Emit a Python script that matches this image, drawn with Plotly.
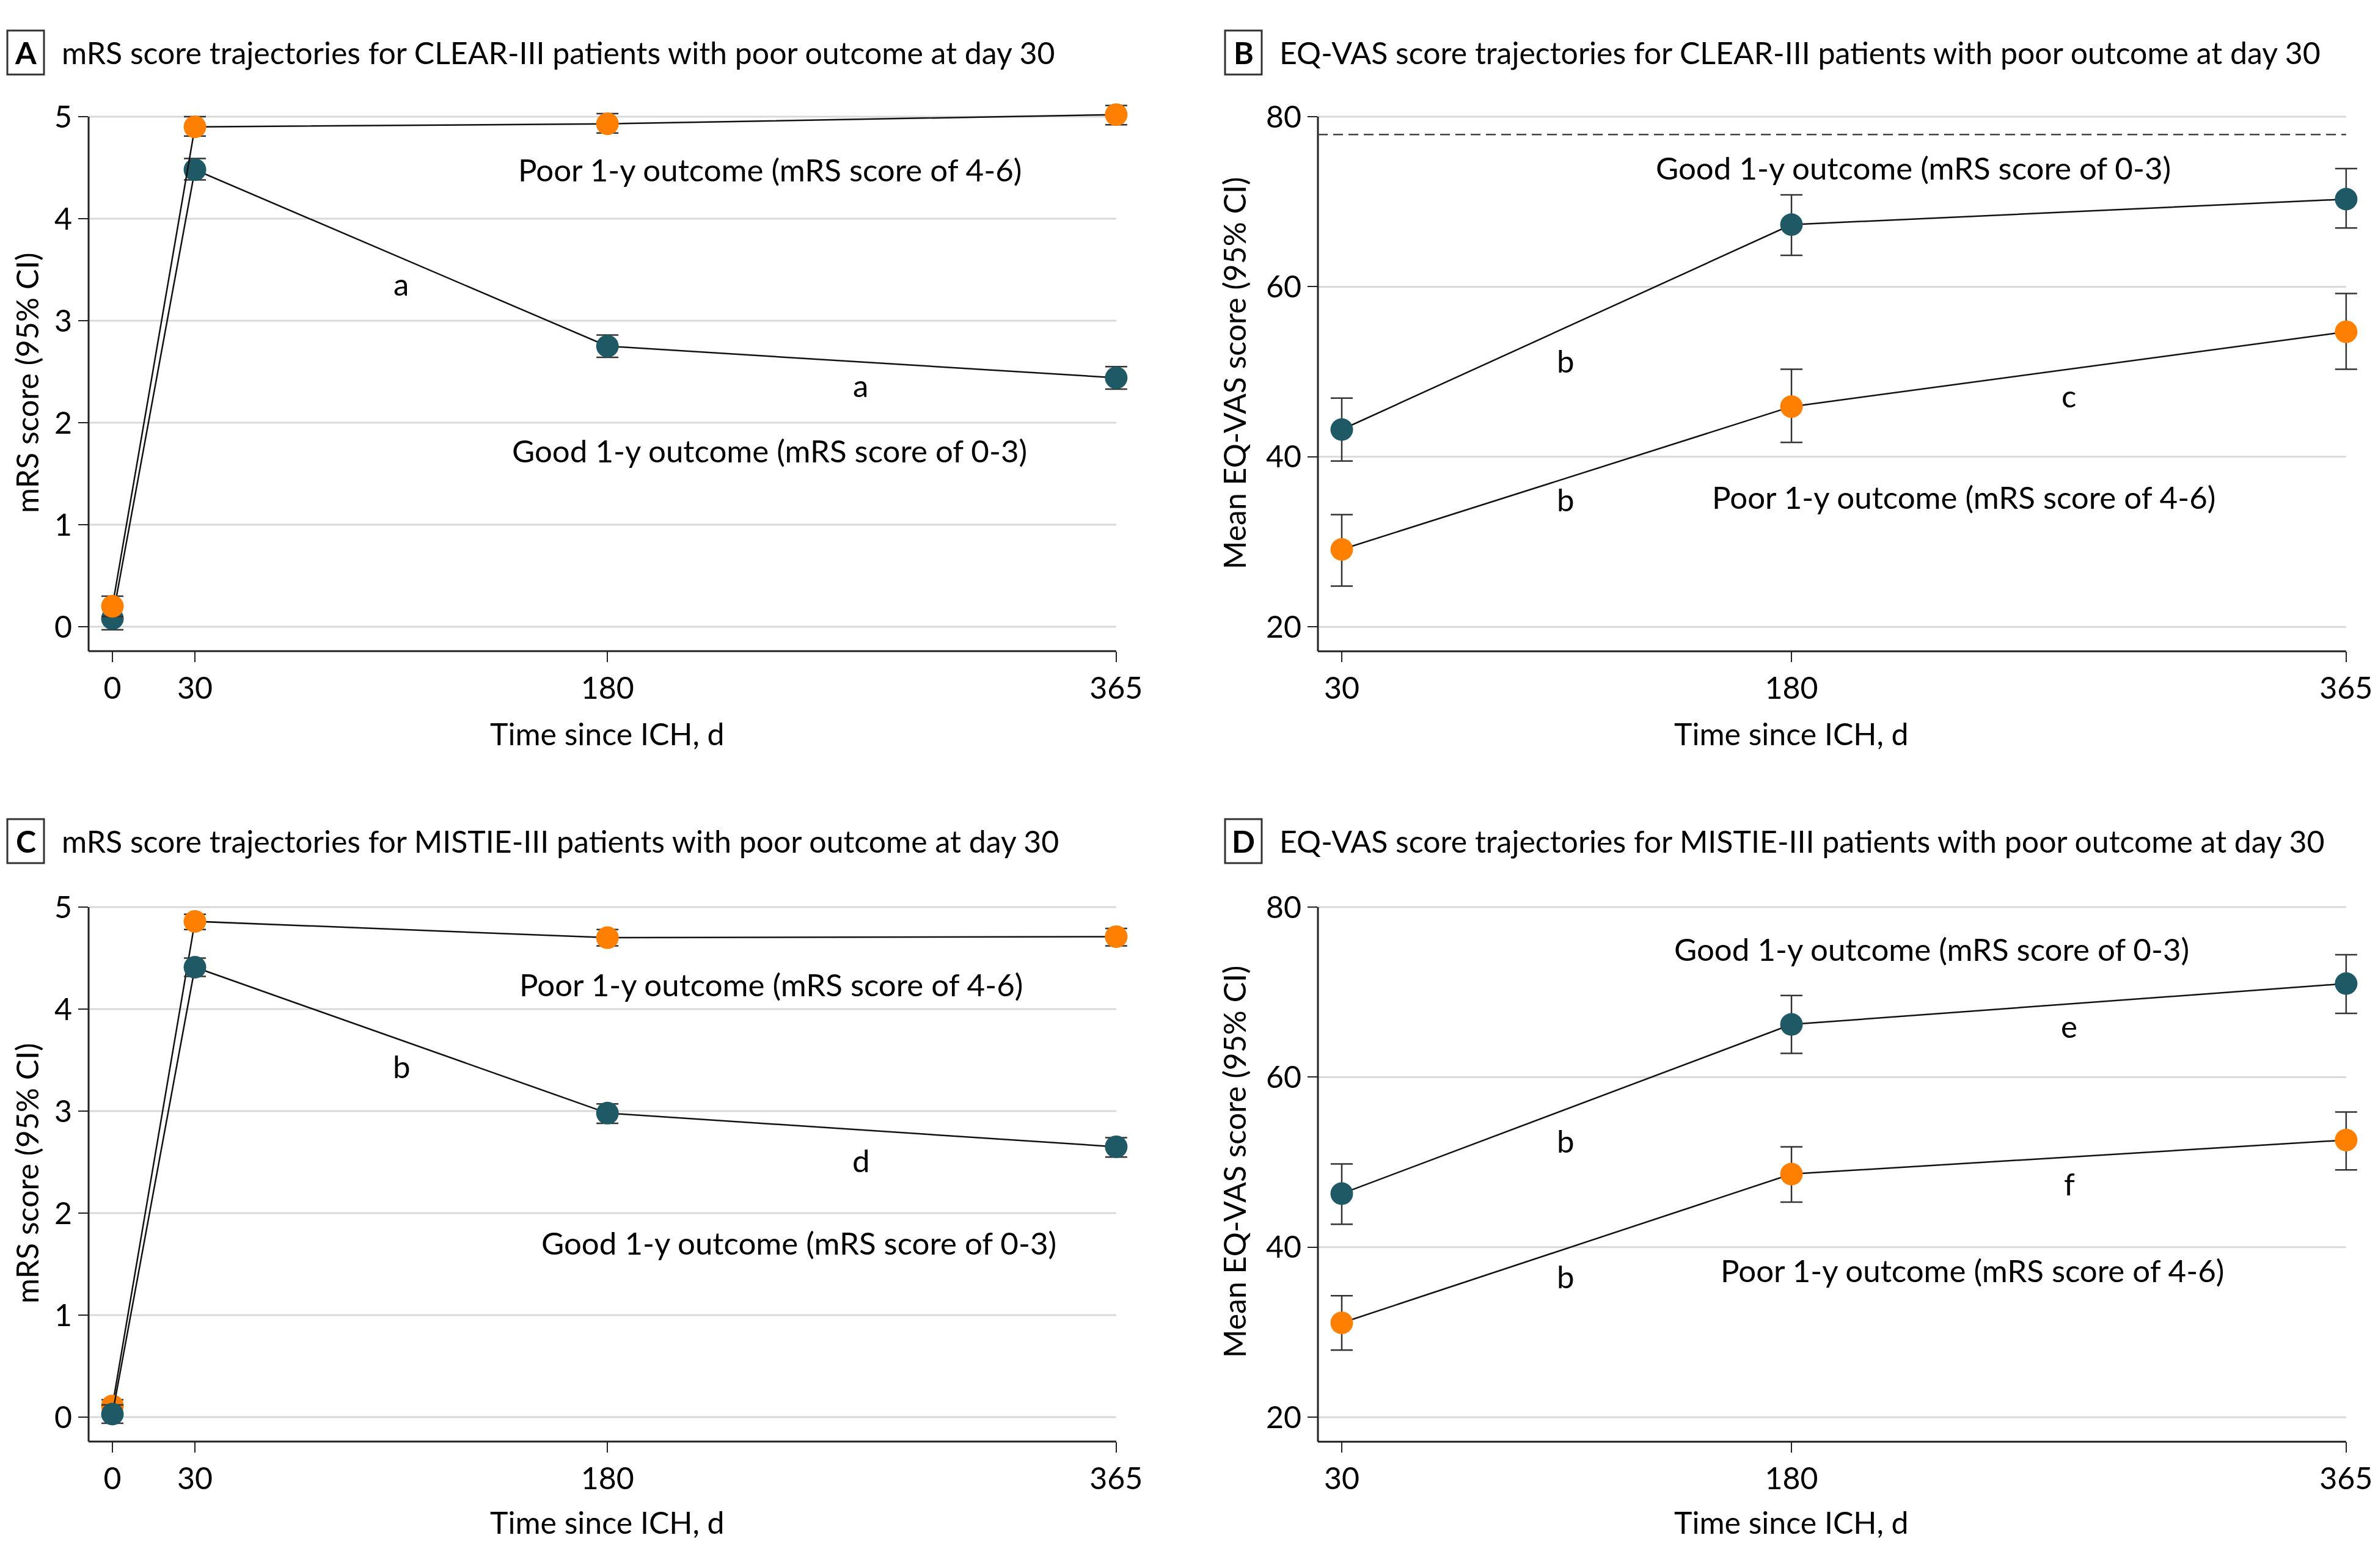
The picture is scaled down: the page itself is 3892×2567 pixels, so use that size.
import plotly.graph_objects as go

# ---------------- data ----------------
days_mrs = [0, 30, 180, 365]
days_vas = [30, 180, 365]

# Panel A: CLEAR-III, mRS
a_good_mean = [0.08, 4.48, 2.75, 2.44]
a_good_lo = [-0.03, 4.38, 2.64, 2.33]
a_good_hi = [0.19, 4.59, 2.86, 2.55]
a_poor_mean = [0.20, 4.90, 4.93, 5.02]
a_poor_lo = [0.10, 4.81, 4.84, 4.92]
a_poor_hi = [0.30, 5.00, 5.03, 5.11]

# Panel B: CLEAR-III, EQ-VAS
b_good_mean = [43.2, 67.3, 70.3]
b_good_lo = [39.5, 63.7, 66.9]
b_good_hi = [46.9, 70.8, 73.9]
b_poor_mean = [29.1, 45.9, 54.7]
b_poor_lo = [24.8, 41.7, 50.3]
b_poor_hi = [33.2, 50.3, 59.2]
b_reference = 77.9

# Panel C: MISTIE-III, mRS
c_good_mean = [0.03, 4.41, 2.98, 2.65]
c_good_lo = [-0.06, 4.32, 2.88, 2.55]
c_good_hi = [0.12, 4.50, 3.07, 2.74]
c_poor_mean = [0.11, 4.86, 4.70, 4.71]
c_poor_lo = [0.05, 4.78, 4.62, 4.62]
c_poor_hi = [0.17, 4.93, 4.78, 4.79]

# Panel D: MISTIE-III, EQ-VAS
d_good_mean = [46.3, 66.2, 71.0]
d_good_lo = [42.7, 62.8, 67.5]
d_good_hi = [49.8, 69.6, 74.4]
d_poor_mean = [31.1, 48.6, 52.6]
d_poor_lo = [27.9, 45.3, 49.1]
d_poor_hi = [34.3, 51.8, 55.9]

mrs_ticks = [0, 1, 2, 3, 4, 5]
vas_ticks = [20, 40, 60, 80]

panel_titles = [
    "mRS score trajectories for CLEAR-III patients with poor outcome at day 30",
    "EQ-VAS score trajectories for CLEAR-III patients with poor outcome at day 30",
    "mRS score trajectories for MISTIE-III patients with poor outcome at day 30",
    "EQ-VAS score trajectories for MISTIE-III patients with poor outcome at day 30",
]
panel_letters = ["A", "B", "C", "D"]
good_label = "Good 1-y outcome (mRS score of 0-3)"
poor_label = "Poor 1-y outcome (mRS score of 4-6)"

# ---------------- styling / layout ----------------
W, H = 3892, 2567
OFF = 8  # page body margin
FONT = "Lato"
FS = 50
FS_IN = 51
TEAL = "#1f5966"
ORANGE = "#ff8000"
INK = "#222222"
GRID = "#d9d9d9"


def px_x(p):
    return (p - OFF) / W


def px_y(p):
    return 1 - (p - OFF) / H


def xdom(r0, r1, ref_val, ref_px, ppu):
    return [px_x(ref_px + (r0 - ref_val) * ppu), px_x(ref_px + (r1 - ref_val) * ppu)]


def ydom(r0, r1, ref_val, ref_px, ppu):
    return [px_y(ref_px - (r0 - ref_val) * ppu), px_y(ref_px - (r1 - ref_val) * ppu)]


MRS_X = [-8.66, 373]
VAS_X = [22.05, 373]
MRS_Y = [-0.24, 5.2]
VAS_Y = [17.13, 82]

# pixel anchors (reference image coordinates)
PPD_L, PPD_R = 4.501, 4.907
PPU_MRS, PPU_VAS = 167.0, 13.92
TOP_ROW_5 = 191
BOT_ROW_5 = 1485

panels = [
    dict(x="x", y="y", xr=MRS_X, yr=MRS_Y,
         xd=xdom(*MRS_X, 0, 184, PPD_L), yd=ydom(*MRS_Y, 5, TOP_ROW_5, PPU_MRS),
         yt=mrs_ticks, xt=days_mrs,
         box=(145, 184 + 365 * PPD_L, TOP_ROW_5, TOP_ROW_5 + 5.24 * PPU_MRS)),
    dict(x="x2", y="y2", xr=VAS_X, yr=VAS_Y,
         xd=xdom(*VAS_X, 30, 2196, PPD_R), yd=ydom(*VAS_Y, 80, TOP_ROW_5, PPU_VAS),
         yt=vas_ticks, xt=days_vas,
         box=(2157, 2196 + 335 * PPD_R, TOP_ROW_5, TOP_ROW_5 + 62.87 * PPU_VAS)),
    dict(x="x3", y="y3", xr=MRS_X, yr=MRS_Y,
         xd=xdom(*MRS_X, 0, 184, PPD_L), yd=ydom(*MRS_Y, 5, BOT_ROW_5, PPU_MRS),
         yt=mrs_ticks, xt=days_mrs,
         box=(145, 184 + 365 * PPD_L, BOT_ROW_5, BOT_ROW_5 + 5.24 * PPU_MRS)),
    dict(x="x4", y="y4", xr=VAS_X, yr=VAS_Y,
         xd=xdom(*VAS_X, 30, 2196, PPD_R), yd=ydom(*VAS_Y, 80, BOT_ROW_5, PPU_VAS),
         yt=vas_ticks, xt=days_vas,
         box=(2157, 2196 + 335 * PPD_R, BOT_ROW_5, BOT_ROW_5 + 62.87 * PPU_VAS)),
]

fig = go.Figure()


def add_series(x, mean, lo, hi, color, xa, ya):
    fig.add_trace(go.Scatter(
        x=x, y=mean, mode="lines+markers",
        line=dict(color="#111111", width=2.5),
        marker=dict(color=color, size=37, line=dict(width=0)),
        error_y=dict(type="data", symmetric=False,
                     array=[h - m for h, m in zip(hi, mean)],
                     arrayminus=[m - l for m, l in zip(mean, lo)],
                     color="#333333", thickness=2.5, width=18),
        xaxis=xa, yaxis=ya, cliponaxis=False, showlegend=False,
        hoverinfo="skip",
    ))


# A (orange on top)
add_series(days_mrs, a_good_mean, a_good_lo, a_good_hi, TEAL, "x", "y")
add_series(days_mrs, a_poor_mean, a_poor_lo, a_poor_hi, ORANGE, "x", "y")
# B
add_series(days_vas, b_good_mean, b_good_lo, b_good_hi, TEAL, "x2", "y2")
add_series(days_vas, b_poor_mean, b_poor_lo, b_poor_hi, ORANGE, "x2", "y2")
# C (teal on top)
add_series(days_mrs, c_poor_mean, c_poor_lo, c_poor_hi, ORANGE, "x3", "y3")
add_series(days_mrs, c_good_mean, c_good_lo, c_good_hi, TEAL, "x3", "y3")
# D
add_series(days_vas, d_good_mean, d_good_lo, d_good_hi, TEAL, "x4", "y4")
add_series(days_vas, d_poor_mean, d_poor_lo, d_poor_hi, ORANGE, "x4", "y4")

tickfont = dict(family=FONT, size=FS, color="#000")

layout_axes = {}
for i, p in enumerate(panels):
    sfx = "" if i == 0 else str(i + 1)
    layout_axes["xaxis" + sfx] = dict(
        domain=p["xd"], range=p["xr"], tickvals=p["xt"],
        ticktext=[str(t) for t in p["xt"]],
        ticks="outside", ticklen=17, tickwidth=2, tickcolor=INK,
        showline=False, showgrid=False, zeroline=False, tickfont=tickfont,
        anchor=p["y"], automargin=False, fixedrange=True)
    layout_axes["yaxis" + sfx] = dict(
        domain=p["yd"], range=p["yr"], tickvals=p["yt"],
        ticks="outside", ticklen=16, tickwidth=2, tickcolor=INK,
        showline=False, showgrid=False, zeroline=False, tickfont=tickfont,
        anchor=p["x"], automargin=False, fixedrange=True)

fig.update_layout(
    width=W, height=H, margin=dict(l=0, r=0, t=0, b=0),
    paper_bgcolor="white", plot_bgcolor="white",
    font=dict(family=FONT, size=FS, color="#000"),
    **layout_axes,
)

# gridlines (ending at the last x tick) and axis lines
for p in panels:
    for t in p["yt"]:
        fig.add_shape(type="line", xref=p["x"], yref=p["y"], x0=p["xr"][0], x1=p["xt"][-1],
                      y0=t, y1=t, line=dict(color=GRID, width=3), layer="below")
    x0, x1, ytop, ybot = p["box"]
    fig.add_shape(type="line", xref="paper", yref="paper", x0=px_x(x0), x1=px_x(x0),
                  y0=px_y(ybot), y1=px_y(ytop), line=dict(color=INK, width=3))
    fig.add_shape(type="line", xref="paper", yref="paper", x0=px_x(x0), x1=px_x(x1),
                  y0=px_y(ybot), y1=px_y(ybot), line=dict(color=INK, width=3))

# reference dashed line in B
fig.add_shape(type="line", xref="x2", yref="y2", x0=VAS_X[0], x1=days_vas[-1],
              y0=b_reference, y1=b_reference,
              line=dict(color="#444444", width=2.5, dash="16px,9px"))

ann = []

# panel letters + titles
title_rows = [86, 86, 1377, 1377]
box_left = [4, 1997, 4, 1997]
for i in range(4):
    cy = title_rows[i]
    bx = box_left[i]
    fig.add_shape(type="rect", xref="paper", yref="paper",
                  x0=px_x(bx + 8), x1=px_x(bx + 68), y0=px_y(cy + 36), y1=px_y(cy - 36),
                  line=dict(color="#333333", width=3), fillcolor="white")
    ann.append(dict(text="<b>%s</b>" % panel_letters[i], x=px_x(bx + 38), y=px_y(cy),
                    xref="paper", yref="paper", showarrow=False,
                    xanchor="center", yanchor="middle", font=dict(size=FS)))
    ann.append(dict(text=panel_titles[i], x=px_x(bx + 95), y=px_y(cy),
                    xref="paper", yref="paper", showarrow=False,
                    xanchor="left", yanchor="middle", font=dict(size=FS)))

# axis titles
for xr, yp in [("x", 1201), ("x2", 1201), ("x3", 2492), ("x4", 2492)]:
    ann.append(dict(text="Time since ICH, d", x=180, y=px_y(yp), xref=xr, yref="paper",
                    showarrow=False, xanchor="center", yanchor="middle"))
for txt, xp, yp in [("mRS score (95% CI)", 44, 627),
                    ("Mean EQ-VAS score (95% CI)", 2020, 611),
                    ("mRS score (95% CI)", 44, 1921),
                    ("Mean EQ-VAS score (95% CI)", 2020, 1902)]:
    ann.append(dict(text=txt, x=px_x(xp), y=px_y(yp), xref="paper", yref="paper",
                    showarrow=False, textangle=-90, xanchor="center", yanchor="middle"))

# in-plot labels
inplot = [
    ("x", "y", poor_label, 239, 4.48), ("x", "y", "a", 105, 3.36),
    ("x", "y", "a", 272, 2.37), ("x", "y", good_label, 239, 1.73),
    ("x2", "y2", good_label, 220.6, 74.0), ("x2", "y2", "b", 104.7, 51.3),
    ("x2", "y2", "c", 272.5, 47.2), ("x2", "y2", "b", 104.7, 35.0),
    ("x2", "y2", poor_label, 237.5, 35.3),
    ("x3", "y3", poor_label, 239.5, 4.24), ("x3", "y3", "b", 105.3, 3.44),
    ("x3", "y3", "d", 272.3, 2.52), ("x3", "y3", good_label, 249.7, 1.71),
    ("x4", "y4", good_label, 226.7, 75.1), ("x4", "y4", "b", 104.7, 52.5),
    ("x4", "y4", "e", 272.7, 66.0), ("x4", "y4", "f", 272.7, 47.5),
    ("x4", "y4", "b", 104.7, 36.6), ("x4", "y4", poor_label, 240.3, 37.3),
]
for xr, yr, txt, xv, yv in inplot:
    ann.append(dict(text=txt, x=xv, y=yv, xref=xr, yref=yr, showarrow=False,
                    xanchor="center", yanchor="middle", font=dict(size=FS_IN)))

fig.update_layout(annotations=ann)
fig.write_html("out.html")
